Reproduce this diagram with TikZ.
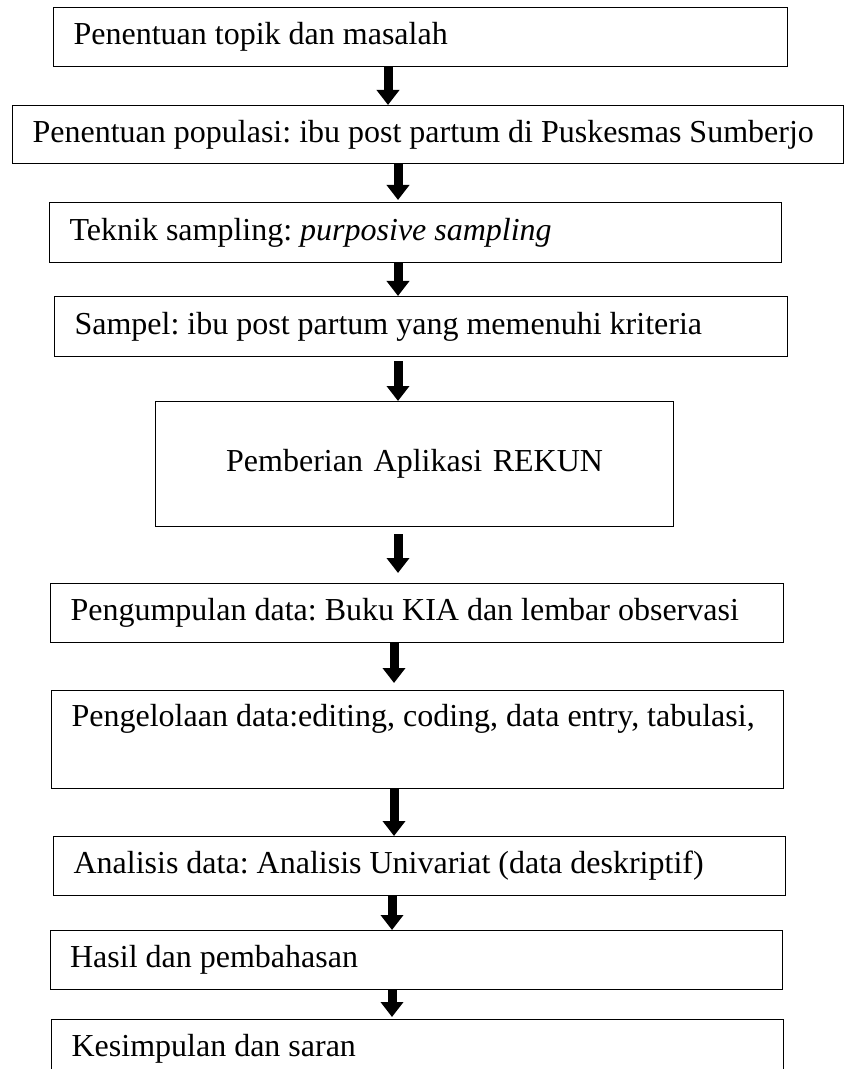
\documentclass[tikz,border=0pt]{standalone}
\usepackage{fontspec}
\setmainfont{Liberation Serif}
\usepackage{tikz}
\usetikzlibrary{arrows.meta, positioning, calc}
\frenchspacing

\begin{document}
\begin{tikzpicture}[x=0.5pt, y=-0.5pt,
  box/.style={draw=black, line width=0.6pt, anchor=north west, inner xsep=10pt, inner ysep=0pt,
    align=flush left, font=\fontsize{16}{19}\selectfont},
  flow/.style={line width=4.5pt, -{Triangle[width=11pt, length=7.5pt]}}]
  \useasboundingbox (0,0) rectangle (845,1069);
  \node[box, text width=347pt, minimum height=29.5pt] (topik) at (53,7) {Penentuan topik dan masalah};
  \node[box, text width=395.5pt, minimum height=29pt] (populasi) at (12,105) {Penentuan populasi: ibu post partum di Puskesmas Sumberjo};
  \node[box, text width=346pt, minimum height=30pt] (teknik) at (49,202) {Teknik sampling: \textit{purposive sampling}};
  \node[box, text width=346.5pt, minimum height=30pt] (sampel) at (54,296) {Sampel: ibu post partum yang memenuhi kriteria};
  \node[box, text width=239pt, minimum height=62.5pt, align=center] (aplikasi) at (155,401) {Pemberian Aplikasi REKUN};
  \node[box, text width=346.5pt, minimum height=29.5pt] (kumpul) at (50,583) {Pengumpulan data: Buku KIA dan lembar observasi};
  \node[box, text width=346pt, minimum height=49pt] (olah) at (51,690) {Pengelolaan data:editing, coding, data entry, tabulasi,\\ \strut};
  \node[box, text width=346pt, minimum height=29.5pt] (analisis) at (53,836) {Analisis data: Analisis Univariat (data deskriptif)};
  \node[box, text width=346.25pt, minimum height=29.5pt] (hasil) at (49.5,930) {Hasil dan pembahasan};
  \node[box, text width=346pt, minimum height=29.5pt] (simpulan) at (51,1019) {Kesimpulan dan saran};

  \coordinate (colA) at (388,0);
  \coordinate (colB) at (398,0);
  \coordinate (colC) at (394,0);
  \coordinate (colD) at (392,0);

  \draw[flow] (topik.south -| colA) -- (populasi.north -| colA);
  \draw[flow, shorten >=1pt] (populasi.south -| colB) -- (teknik.north -| colB);
  \draw[flow] (teknik.south -| colB) -- (sampel.north -| colB);
  \draw[flow, shorten <=2pt] (sampel.south -| colB) -- (aplikasi.north -| colB);
  \draw[flow, shorten <=3.5pt, shorten >=5pt] (aplikasi.south -| colB) -- (kumpul.north -| colB);
  \draw[flow, shorten >=3.5pt] (kumpul.south -| colC) -- (olah.north -| colC);
  \draw[flow] (olah.south -| colC) -- (analisis.north -| colC);
  \draw[flow] (analisis.south -| colD) -- (hasil.north -| colD);
  \draw[flow, shorten >=1pt] (hasil.south -| colD) -- (simpulan.north -| colD);
\end{tikzpicture}
\end{document}
